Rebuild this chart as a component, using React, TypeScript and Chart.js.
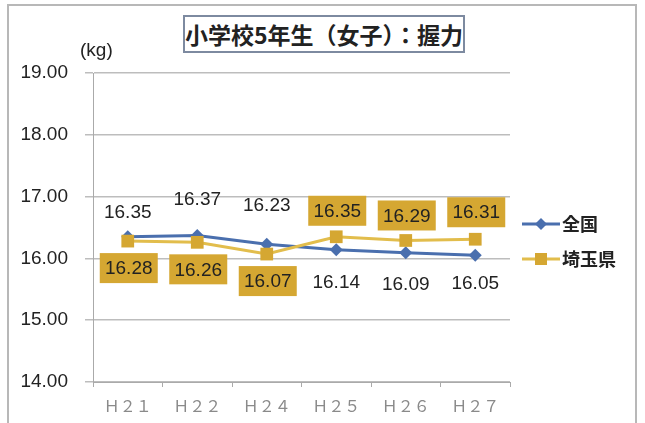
import React, { useEffect, useRef } from "react";
import { Chart, registerables } from "chart.js";

Chart.register(...registerables);

const categories = ["Ｈ２１", "Ｈ２２", "Ｈ２４", "Ｈ２５", "Ｈ２６", "Ｈ２７"];
const nationalValues = [16.35, 16.37, 16.23, 16.14, 16.09, 16.05];
const saitamaValues = [16.28, 16.26, 16.07, 16.35, 16.29, 16.31];
const seriesNames = ["全国", "埼玉県"];
const yMin = 14;
const yMax = 19;

// label vertical offsets (style)
const nationalLabelDy = [-24, -36, -38, 33, 32, 28];
const saitamaLabelDy = [27, 27, 27, -26, -25, -27];

const BLUE = "#4A6FAE";
const GOLD_LINE = "#E2BD4C";
const GOLD = "#D5A732";
const NUM_FONT = "19px 'Liberation Sans', Arial, sans-serif";

const labelsPlugin = {
  id: "customLabels",
  afterDatasetsDraw(chart: any) {
    const ctx = chart.ctx;
    ctx.save();
    ctx.font = NUM_FONT;
    ctx.textAlign = "center";
    ctx.textBaseline = "middle";
    const m0 = chart.getDatasetMeta(0);
    m0.data.forEach((pt: any, i: number) => {
      ctx.fillStyle = "#222";
      ctx.fillText(nationalValues[i].toFixed(2), pt.x, pt.y + nationalLabelDy[i]);
    });
    const m1 = chart.getDatasetMeta(1);
    m1.data.forEach((pt: any, i: number) => {
      const cx = pt.x + 1;
      const cy = pt.y + saitamaLabelDy[i];
      ctx.fillStyle = GOLD;
      ctx.fillRect(cx - 29, cy - 15, 58, 30);
      ctx.fillStyle = "#222";
      ctx.fillText(saitamaValues[i].toFixed(2), cx, cy + 1);
    });
    ctx.restore();
  },
  afterDraw(chart: any) {
    const ctx = chart.ctx;
    ctx.save();
    const items = [
      { y: 224, color: BLUE, marker: "diamond", text: seriesNames[0] },
      { y: 259, color: GOLD_LINE, marker: "square", text: seriesNames[1] },
    ];
    items.forEach((it) => {
      ctx.strokeStyle = it.color;
      ctx.lineWidth = 3;
      ctx.beginPath();
      ctx.moveTo(522, it.y);
      ctx.lineTo(560, it.y);
      ctx.stroke();
      if (it.marker === "diamond") {
        ctx.fillStyle = BLUE;
        ctx.beginPath();
        ctx.moveTo(541, it.y - 6);
        ctx.lineTo(547, it.y);
        ctx.lineTo(541, it.y + 6);
        ctx.lineTo(535, it.y);
        ctx.closePath();
        ctx.fill();
      } else {
        ctx.fillStyle = GOLD;
        ctx.fillRect(535, it.y - 6, 12, 12);
      }
      ctx.fillStyle = "#222";
      ctx.font = "bold 18px 'Noto Sans CJK JP', sans-serif";
      ctx.textAlign = "left";
      ctx.textBaseline = "middle";
      ctx.fillText(it.text, 562, it.y);
    });
    ctx.restore();
  },
};

export default function App() {
  const ref = useRef<HTMLCanvasElement | null>(null);
  useEffect(() => {
    document.body.style.margin = "0";
    if (!ref.current) return;
    const chart = new Chart(ref.current, {
      type: "line",
      data: {
        labels: categories,
        datasets: [
          {
            label: seriesNames[0],
            data: nationalValues,
            borderColor: BLUE,
            backgroundColor: BLUE,
            borderWidth: 3,
            pointStyle: "rectRot",
            pointRadius: 6.5,
            pointBorderWidth: 0,
            pointBackgroundColor: BLUE,
            order: 2,
          },
          {
            label: seriesNames[1],
            data: saitamaValues,
            borderColor: GOLD_LINE,
            backgroundColor: GOLD,
            borderWidth: 3,
            pointStyle: "rect",
            pointRadius: 9,
            pointBorderWidth: 0,
            pointBackgroundColor: GOLD,
            order: 1,
          },
        ],
      },
      options: {
        animation: false,
        responsive: false,
        layout: { padding: { top: 73, right: 135, bottom: 0, left: 0 } },
        plugins: { legend: { display: false }, tooltip: { enabled: false }, title: { display: false } },
        scales: {
          x: {
            type: "category",
            offset: true,
            grid: { display: true, drawOnChartArea: false, offset: true, tickLength: 5, color: "#aaa" },
            border: { color: "#aaa", width: 1 },
            ticks: {
              font: { family: "'Noto Sans CJK JP', sans-serif", size: 16 },
              color: "#8a8a8a",
              padding: 9,
              maxRotation: 0,
            },
            afterFit: (s: any) => {
              s.height = 41;
            },
          },
          y: {
            min: yMin,
            max: yMax,
            ticks: {
              stepSize: 1,
              callback: (v: any) => Number(v).toFixed(2),
              font: { family: "'Liberation Sans', Arial, sans-serif", size: 19 },
              color: "#222",
              padding: 17,
            },
            grid: { color: "#bdbdbd", tickLength: 8, lineWidth: 1.5 },
            border: { display: true, color: "#aaa" },
            afterFit: (s: any) => {
              s.width = 93;
            },
          },
        },
      },
      plugins: [labelsPlugin],
    } as any);
    return () => chart.destroy();
  }, []);

  return (
    <div style={{ position: "absolute", left: 0, top: 0, width: 645, height: 423, overflow: "hidden", background: "#fff" }}>
      <div
        style={{
          position: "absolute",
          left: 7,
          top: 4,
          width: 630,
          height: 440,
          border: "2px solid #b8b8b8",
          boxSizing: "border-box",
        }}
      />
      <canvas ref={ref} width={645} height={423} style={{ position: "absolute", left: 0, top: 0 }} />
      <div
        style={{
          position: "absolute",
          left: 183,
          top: 15,
          width: 282,
          height: 38,
          border: "2px solid #7d8aa0",
          boxSizing: "border-box",
          background: "#fff",
          display: "flex",
          alignItems: "center",
          justifyContent: "center",
          fontFamily: "'Noto Sans CJK JP', sans-serif",
          fontWeight: "bold",
          fontSize: 23,
          color: "#222",
          whiteSpace: "nowrap",
          letterSpacing: 0,
        }}
      >
        小学校5年生（女子）：握力
      </div>
      <div
        style={{
          position: "absolute",
          left: 80,
          top: 38,
          fontFamily: "'Liberation Sans', Arial, sans-serif",
          fontSize: 19,
          color: "#222",
          lineHeight: "24px",
        }}
      >
        (kg)
      </div>
    </div>
  );
}
